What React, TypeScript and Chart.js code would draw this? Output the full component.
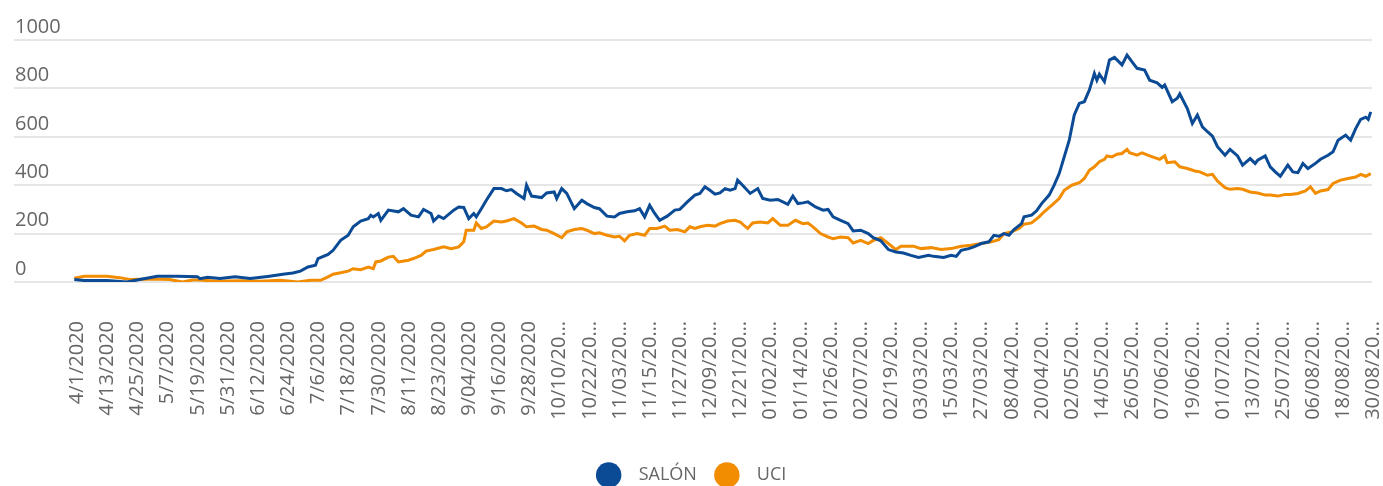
import React, { useEffect, useRef } from "react";
import { Chart, registerables } from "chart.js";

Chart.register(...registerables);

// X tick labels, one every 12 days starting 4/1/2020 (day 0)
const tickStep = 12;
const tickLabels = [
  "4/1/2020", "4/13/2020", "4/25/2020", "5/7/2020", "5/19/2020", "5/31/2020",
  "6/12/2020", "6/24/2020", "7/6/2020", "7/18/2020", "7/30/2020", "8/11/2020",
  "8/23/2020", "9/04/2020", "9/16/2020", "9/28/2020", "10/10/20…", "10/22/20…",
  "11/03/20…", "11/15/20…", "11/27/20…", "12/09/20…", "12/21/20…", "01/02/20…",
  "01/14/20…", "01/26/20…", "02/07/20…", "02/19/20…", "03/03/20…", "15/03/20…",
  "27/03/20…", "08/04/20…", "20/04/20…", "02/05/20…", "14/05/20…", "26/05/20…",
  "07/06/20…", "19/06/20…", "01/07/20…", "13/07/20…", "25/07/20…", "06/08/20…",
  "18/08/20…", "30/08/20…",
];

// SALÓN series: day offset from 4/1/2020 and value
const salonDays = [
  0, 4, 13, 21, 25, 33, 41, 49, 50, 53, 58, 64, 70, 77, 83, 87, 90, 93, 96, 97,
  101, 103, 106, 109, 111, 114, 117, 118, 119, 121, 122, 125, 129, 131, 134, 137, 139, 142, 143, 145,
  147, 151, 153, 155, 157, 159, 160, 162, 164, 167, 170, 172, 174, 176, 179, 180, 182, 186, 188, 191,
  192, 194, 196, 199, 202, 204, 207, 209, 212, 215, 217, 220, 223, 225, 227, 229, 231, 233, 236, 239,
  241, 244, 247, 249, 251, 253, 255, 257, 259, 261, 263, 264, 266, 269, 272, 274, 277, 280, 282, 284,
  286, 288, 290, 292, 295, 298, 300, 302, 305, 308, 310, 313, 316, 318, 321, 324, 327, 330, 333, 336,
  340, 342, 346, 349, 351, 353, 356, 358, 361, 364, 366, 368, 370, 372, 374, 377, 378, 381, 383, 385,
  388, 390, 392, 394, 396, 398, 400, 402, 404, 406, 407, 408, 410, 412, 414, 417, 419, 421, 423, 426,
  428, 431, 433, 434, 437, 439, 440, 443, 445, 447, 449, 451, 453, 455, 458, 460, 463, 465, 468, 470,
  471, 474, 476, 478, 480, 483, 485, 487, 489, 491, 494, 496, 499, 501, 503, 506, 508, 510, 512, 514,
  515, 516,
];
const salonValues = [
  10, 6, 6, 0, 8, 24, 24, 22, 14, 20, 14, 22, 14, 23, 32, 37, 45, 62, 69, 97,
  114, 131, 172, 193, 228, 252, 262, 276, 269, 283, 255, 297, 290, 303, 276, 269, 300, 283, 252, 272,
  262, 297, 310, 308, 262, 283, 269, 303, 338, 386, 386, 377, 382, 366, 345, 400, 355, 349, 368, 372,
  345, 386, 366, 303, 338, 324, 308, 303, 272, 269, 283, 290, 294, 303, 269, 317, 283, 255, 272, 297,
  300, 331, 359, 366, 393, 379, 363, 368, 386, 379, 386, 421, 400, 366, 386, 345, 338, 341, 331, 321,
  355, 324, 327, 331, 310, 297, 300, 269, 255, 241, 211, 214, 200, 183, 170, 134, 124, 120, 110, 101,
  110, 106, 101, 110, 106, 131, 138, 145, 159, 166, 193, 189, 200, 193, 217, 241, 269, 276, 294, 324,
  359, 400, 448, 517, 586, 690, 738, 745, 793, 862, 834, 859, 828, 917, 928, 897, 938, 910, 883, 876,
  834, 823, 804, 814, 745, 759, 777, 717, 655, 690, 641, 621, 603, 559, 524, 548, 521, 483, 510, 490,
  503, 521, 476, 455, 437, 483, 455, 452, 490, 469, 490, 507, 524, 538, 586, 607, 586, 634, 672, 681,
  672, 703,
];

// UCI series: day offset from 4/1/2020 and value
const uciDays = [
  0, 4, 13, 18, 22, 30, 38, 43, 47, 50, 57, 66, 74, 82, 89, 94, 98, 101, 103, 106,
  109, 111, 114, 117, 119, 120, 122, 125, 127, 129, 133, 135, 138, 140, 143, 147, 150, 153, 155, 156,
  159, 160, 162, 164, 167, 170, 172, 175, 178, 180, 183, 186, 188, 191, 194, 196, 199, 202, 204, 207,
  209, 212, 215, 217, 219, 221, 224, 227, 229, 232, 235, 237, 240, 243, 245, 247, 249, 252, 255, 257,
  260, 263, 265, 268, 270, 273, 276, 278, 281, 284, 287, 290, 292, 294, 297, 300, 302, 305, 308, 310,
  313, 316, 318, 321, 324, 327, 329, 334, 337, 341, 345, 349, 353, 357, 361, 365, 368, 370, 373, 376,
  378, 381, 384, 386, 389, 392, 394, 397, 400, 402, 404, 406, 408, 410, 411, 413, 415, 417, 419, 420,
  423, 425, 428, 432, 434, 435, 438, 440, 443, 446, 448, 451, 453, 455, 458, 460, 463, 465, 468, 471,
  474, 476, 479, 482, 484, 487, 490, 492, 494, 496, 499, 501, 504, 507, 510, 512, 514, 516,
];
const uciValues = [
  16, 24, 24, 18, 10, 12, 10, 0, 8, 8, 3, 5, 3, 7, 0, 7, 7, 21, 32, 38,
  45, 55, 51, 62, 55, 83, 87, 103, 106, 83, 90, 97, 110, 128, 134, 145, 138, 145, 166, 214,
  214, 244, 221, 228, 252, 248, 252, 262, 244, 228, 231, 217, 214, 200, 183, 207, 217, 221, 214, 200,
  203, 193, 186, 189, 170, 193, 200, 193, 221, 221, 231, 214, 217, 207, 228, 221, 228, 234, 231, 241,
  252, 255, 248, 221, 244, 248, 244, 262, 234, 234, 255, 241, 244, 228, 200, 186, 179, 186, 183, 161,
  172, 159, 172, 183, 159, 134, 148, 148, 138, 142, 134, 138, 148, 152, 159, 166, 175, 200, 207, 221,
  239, 244, 269, 290, 317, 345, 379, 400, 410, 428, 462, 476, 497, 507, 521, 517, 528, 531, 548, 534,
  524, 534, 521, 507, 521, 493, 497, 476, 469, 459, 455, 441, 445, 417, 390, 383, 386, 383, 372, 368,
  359, 359, 355, 362, 362, 366, 376, 393, 366, 376, 382, 407, 421, 428, 434, 445, 437, 448,
];

const SALON_COLOR = "#0b4a94";
const UCI_COLOR = "#f28c00";
const TEXT_COLOR = "#666666";
const FONT = "'Open Sans', 'Noto Sans', sans-serif";

export default function App() {
  const canvasRef = useRef<HTMLCanvasElement>(null);

  useEffect(() => {
    if (!canvasRef.current) return;
    const chart = new Chart(canvasRef.current, {
      type: "line",
      data: {
        datasets: [
          {
            label: "SALÓN",
            data: salonDays.map((d, i) => ({ x: d, y: salonValues[i] })),
            borderColor: SALON_COLOR,
            backgroundColor: SALON_COLOR,
            borderWidth: 3,
            pointRadius: 0,
            tension: 0,
          },
          {
            label: "UCI",
            data: uciDays.map((d, i) => ({ x: d, y: uciValues[i] })),
            borderColor: UCI_COLOR,
            backgroundColor: UCI_COLOR,
            borderWidth: 3,
            pointRadius: 0,
            tension: 0,
          },
        ],
      },
      options: {
        responsive: false,
        animation: false,
        layout: { padding: { left: 14, right: 11, top: 40, bottom: 6 } },
        plugins: {
          tooltip: { enabled: false },
          legend: {
            position: "bottom",
            labels: {
              usePointStyle: true,
              pointStyle: "circle",
              boxHeight: 18,
              padding: 21,
              color: TEXT_COLOR,
              font: { family: FONT, size: 18 },
              generateLabels: (c: any) =>
                (Chart.defaults.plugins.legend.labels as any)
                  .generateLabels(c)
                  .map((l: any) => ({ ...l, lineWidth: 0, text: "\u2002\u2009" + l.text })),
            },
          },
        },
        scales: {
          x: {
            type: "linear",
            min: -24,
            max: 516.5,
            grid: { display: false, drawTicks: false },
            border: { display: false },
            afterBuildTicks: (s: any) => {
              s.ticks = tickLabels.map((_, i) => ({ value: i * tickStep }));
            },
            afterFit: (s: any) => {
              s.height = 163;
              s.paddingLeft = 0;
              s.paddingRight = 0;
            },
            ticks: {
              autoSkip: false,
              minRotation: 90,
              maxRotation: 90,
              padding: 39,
              labelOffset: 3,
              color: TEXT_COLOR,
              font: { family: FONT, size: 20 },
              callback: (v: any) => tickLabels[Math.round(Number(v) / tickStep)] ?? "",
            },
          },
          y: {
            min: 0,
            max: 1000,
            grid: { color: "#e6e6e6", lineWidth: 2, drawTicks: false },
            border: { display: false },
            afterFit: (s: any) => {
              s.width = 0;
            },
            ticks: {
              stepSize: 200,
              mirror: true,
              padding: 1,
              labelOffset: -13,
              color: TEXT_COLOR,
              font: { family: FONT, size: 20 },
              callback: (v: any) => String(v),
            },
          },
        },
      },
    } as any);
    return () => chart.destroy();
  }, []);

  return (
    <div style={{ position: "absolute", left: 0, top: 0, width: 1383, height: 486, overflow: "hidden" }}>
      <canvas ref={canvasRef} width={1383} height={500} style={{ display: "block" }} />
    </div>
  );
}
